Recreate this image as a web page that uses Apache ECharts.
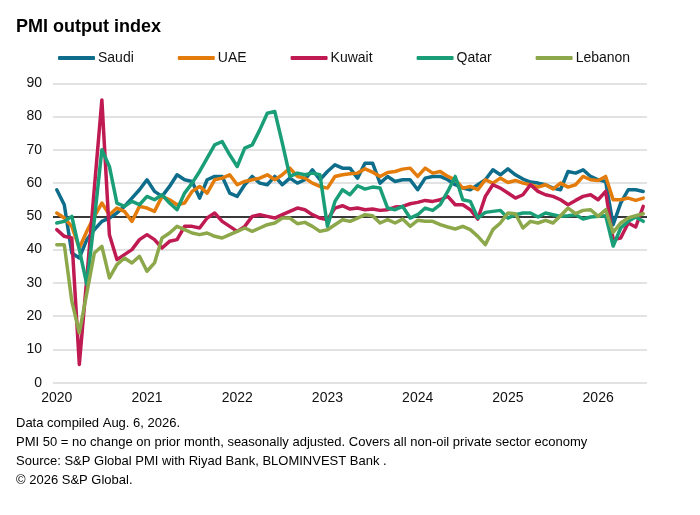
<!DOCTYPE html>
<html>
<head>
<meta charset="utf-8">
<script src="https://cdn.jsdelivr.net/npm/echarts@6/dist/echarts.min.js"></script>
<style>
html,body{margin:0;padding:0;background:#fff;}
#chart{width:700px;height:515px;}
</style>
</head>
<body>
<div id="chart"></div>
<script>
// ---- data (monthly, Jan 2020 .. Jul 2026) ----
var startYear = 2020;
var monthCount = 79;
var yearLabels = ['2020','2021','2022','2023','2024','2025','2026'];
var yTicks = [0,10,20,30,40,50,60,70,80,90];

var saudi = [58,53.5,39,37.5,43,46,48.5,49.5,51,53,55.5,58,
  61,57.5,56,59,62.5,61,60.5,55.5,61,62,62,57,
  56,59.5,62,60,59.5,62,59.5,61.5,60,61,64,61,
  63.5,65.5,64.5,64.5,61.5,66,66,60,62,60.5,61,61,
  58,61.5,62,62,61,59.5,58.5,58,59.5,61,64,62.5,
  64.3,62.5,61.2,60.3,60,59.5,58.5,58,63.5,63,64,62,
  61,60.5,47.5,54,58,58,57.5];
var uae = [51,49.5,47,40.5,45.5,50,54,50.5,52.5,51.5,48.5,53,
  52.5,51.5,56,55,53.5,54,57.5,59,57,61,61.5,62.5,
  59.5,60.5,61,61.5,62.5,61,62.5,64.5,62,61.5,60,59,
  58.5,62,62.5,62.8,63,64.3,63.3,62,63.2,63.5,64.2,64.5,
  62,64.5,63,63.5,62,61,58.5,59,58,61,60,61.5,
  60.2,60.8,60,59.5,58.8,59.5,58.2,60,58.8,59.5,62,61,
  60.8,62,55,55,55.5,54.8,55.5];
var kuwait = [46,44,43.5,5.5,31.5,58.5,85,44.5,37,38.5,40,43,
  44.5,43,40.5,42.5,43,47,47,46.5,49.5,51,48.5,47,
  45.5,47,50,50.5,50,49.5,50.5,51.5,52.5,52,50.5,49.5,
  49,52.5,53.2,52.2,52.5,52,52.2,51.8,52,52.8,53,53.8,
  54.2,54.8,54.5,55,56,53.5,53.5,52,49.2,56,59.5,58.5,
  57,55.5,56.5,59.5,57.5,56.5,56,55,53.5,54.8,56,56.5,
  55,57.5,43,43.5,48,46.8,53];
var qatar = [48,48.5,50,40,29.5,49,70,65,54,53,54.5,53.5,
  56,55,56.5,54,52,57,60,63.5,67.5,71.5,72.5,68.5,
  65,70.5,71.5,76,81,81.5,72,62,63,62.5,63,62.5,
  47,54.5,58,56.5,59.2,58.2,58.8,58.5,52.5,52,53,49.5,
  50.5,52.5,51.8,53.5,57.5,62,55,54.5,49.5,51.2,51.5,51.8,
  49.5,50.5,51,51,49.8,51,50.5,50,50.2,50.5,49.2,49.8,
  50,50.2,41.1,46.5,48.5,49.8,48.5];
var lebanon = [41.5,41.5,24.5,15,27,39,41,31.5,35.5,37.5,36,38,
  33.5,36,43.5,45,47,46,45,44.5,45,44,43.5,44.5,
  45.5,46.5,45.5,46.5,47.5,48,49.5,49.5,47.8,48.2,47,45.5,
  46,47.5,49,48.5,49.5,50.5,50.2,48,49,48,49.2,47,
  48.8,48.5,48.5,47.5,46.8,46.2,47,46,44,41.5,46,48,
  51,50.8,46.5,48.5,48,48.8,48,50.2,52.5,50.8,51.8,52,
  50,52,45.2,48,49.5,50.2,50.8];

var seriesNames = ['Saudi','UAE','Kuwait','Qatar','Lebanon'];
var seriesData = [saudi, uae, kuwait, qatar, lebanon];
var seriesColors = ['#0f6d8c','#e47c0c','#c01a52','#1a9e78','#8ca84b'];
var neutralLevel = 50;

var footLines = [
  'Data compiled Aug. 6, 2026.',
  'PMI 50 = no change on prior month, seasonally adjusted. Covers all non-oil private sector economy',
  'Source: S&P Global PMI with Riyad Bank, BLOMINVEST Bank .',
  '\u00a9 2026 S&P Global.'
];

// ---- build ----
var categories = [];
for (var k = 0; k < monthCount; k++) {
  var y = startYear + Math.floor(k / 12);
  var m = (k % 12) + 1;
  categories.push(y + '-' + (m < 10 ? '0' + m : m));
}

var FONT = 'Liberation Sans, Arial, sans-serif';

var series = seriesNames.map(function (name, idx) {
  var s = {
    name: name,
    type: 'line',
    data: seriesData[idx],
    symbol: 'none',
    showSymbol: false,
    smooth: false,
    lineStyle: { width: 3.5, color: seriesColors[idx], cap: 'round', join: 'round' },
    itemStyle: { color: seriesColors[idx] },
    emphasis: { disabled: true },
    z: 3 + idx
  };
  if (idx === 0) {
    s.markLine = {
      silent: true,
      symbol: ['none', 'none'],
      label: { show: false },
      lineStyle: { color: '#000', width: 1.5, type: 'solid' },
      data: [{ yAxis: neutralLevel }],
      z: 2
    };
  }
  return s;
});

var graphics = footLines.map(function (t, i) {
  return {
    type: 'text',
    left: 16,
    top: 417 + i * 19,
    style: { text: t, fill: '#000', font: '13px ' + FONT }
  };
});

var chart = echarts.init(document.getElementById('chart'), null, { renderer: 'canvas' });
chart.setOption({
  animation: false,
  backgroundColor: '#fff',
  textStyle: { fontFamily: FONT },
  title: {
    text: 'PMI output index',
    left: 11,
    top: 13,
    textStyle: { fontSize: 18, fontWeight: 'bold', color: '#000', fontFamily: FONT }
  },
  legend: {
    data: seriesNames,
    left: 58,
    top: 51,
    padding: 0,
    itemGap: 44,
    itemWidth: 37,
    itemHeight: 4,
    icon: 'roundRect',
    textStyle: { fontSize: 14, color: '#111', fontFamily: FONT, padding: [0, 0, 0, -2] }
  },
  grid: { left: 53, right: 53, top: 83.3, bottom: 132.3, containLabel: false },
  xAxis: {
    type: 'category',
    data: categories,
    boundaryGap: true,
    axisLine: { show: false },
    axisTick: { show: false },
    splitLine: { show: false },
    axisLabel: {
      interval: function (idx) { return idx % 12 === 0; },
      formatter: function (v) { return yearLabels[parseInt(v.slice(0, 4), 10) - startYear]; },
      fontSize: 14,
      color: '#111',
      margin: 8,
      fontFamily: FONT
    }
  },
  yAxis: {
    type: 'value',
    min: yTicks[0],
    max: yTicks[yTicks.length - 1],
    interval: 10,
    axisLine: { show: false },
    axisTick: { show: false },
    splitLine: { lineStyle: { color: '#d9d9d9', width: 1.5 } },
    axisLabel: { fontSize: 14, color: '#111', margin: 11, fontFamily: FONT }
  },
  series: series,
  graphic: graphics
});
</script>
</body>
</html>
